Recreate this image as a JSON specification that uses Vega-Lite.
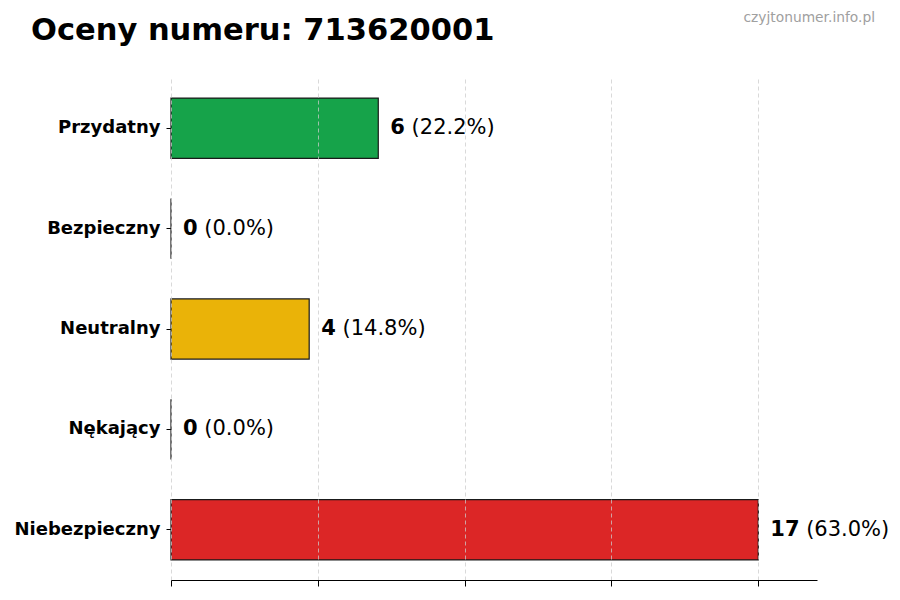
{
  "$schema": "https://vega.github.io/schema/vega-lite/v6.json",
  "width": 646,
  "height": 502,
  "autosize": {"type": "none"},
  "padding": {"left": 171, "top": 78, "right": 83, "bottom": 20},
  "background": "white",
  "config": {"view": {"stroke": null}, "font": "DejaVu Sans"},
  "title": {
    "text": "Oceny numeru: 713620001",
    "anchor": "start",
    "frame": "group",
    "dx": -140,
    "fontSize": 30.5,
    "font": "DejaVu Sans",
    "fontWeight": "bold",
    "color": "black",
    "baseline": "alphabetic",
    "offset": -59
  },
  "data": {
    "values": [
      {"kategoria": "Przydatny", "liczba": 6, "procent": "22.2%"},
      {"kategoria": "Bezpieczny", "liczba": 0, "procent": "0.0%"},
      {"kategoria": "Neutralny", "liczba": 4, "procent": "14.8%"},
      {"kategoria": "Nękający", "liczba": 0, "procent": "0.0%"},
      {"kategoria": "Niebezpieczny", "liczba": 17, "procent": "63.0%"}
    ]
  },
  "layer": [
    {
      "mark": {"type": "bar", "stroke": "#1a1a1a", "strokeWidth": 1.2},
      "encoding": {
        "y": {
          "field": "kategoria",
          "type": "nominal",
          "sort": null,
          "scale": {"paddingInner": 0.4, "paddingOuter": 0.2},
          "axis": {
            "title": null,
            "domain": false,
            "ticks": true,
            "tickSize": 5,
            "tickColor": "black",
            "labelFontSize": 18,
            "labelFontWeight": "bold",
            "labelColor": "black",
            "labelPadding": 6,
            "labelFont": "DejaVu Sans",
            "grid": false
          }
        },
        "x": {
          "field": "liczba",
          "type": "quantitative",
          "scale": {"domain": [0, 18.7], "nice": false},
          "axis": {
            "title": null,
            "values": [0, 4.25, 8.5, 12.75, 17],
            "labels": false,
            "domainColor": "black",
            "tickColor": "black",
            "tickSize": 6,
            "grid": true,
            "gridDash": [4, 3],
            "gridColor": "#cccccc",
            "gridOpacity": 0.75,
            "zindex": 1
          }
        },
        "color": {
          "field": "kategoria",
          "type": "nominal",
          "scale": {
            "domain": ["Przydatny", "Bezpieczny", "Neutralny", "Nękający", "Niebezpieczny"],
            "range": ["#16a34a", "#2563eb", "#eab308", "#9333ea", "#dc2626"]
          },
          "legend": null
        }
      }
    },
    {
      "mark": {"type": "text", "align": "left", "baseline": "middle", "dx": 12, "fontSize": 21, "fontWeight": "bold", "color": "black", "font": "DejaVu Sans"},
      "encoding": {
        "y": {"field": "kategoria", "type": "nominal", "sort": null},
        "x": {"field": "liczba", "type": "quantitative"},
        "text": {"field": "liczba", "type": "quantitative"}
      }
    },
    {
      "transform": [{"calculate": "'(' + datum.procent + ')'", "as": "etykieta"}],
      "mark": {"type": "text", "align": "left", "baseline": "middle", "dx": {"expr": "18.7 + length(toString(datum.liczba)) * 14.6"}, "fontSize": 21, "color": "black", "font": "DejaVu Sans"},
      "encoding": {
        "y": {"field": "kategoria", "type": "nominal", "sort": null},
        "x": {"field": "liczba", "type": "quantitative"},
        "text": {"field": "etykieta", "type": "nominal"}
      }
    },
    {
      "data": {"values": [{"znak": "czyjtonumer.info.pl"}]},
      "mark": {"type": "text", "align": "right", "baseline": "alphabetic", "fontSize": 13.8, "color": "#a0a0a0", "font": "DejaVu Sans"},
      "encoding": {
        "x": {"value": 704},
        "y": {"value": -56},
        "text": {"field": "znak", "type": "nominal"}
      }
    }
  ]
}
